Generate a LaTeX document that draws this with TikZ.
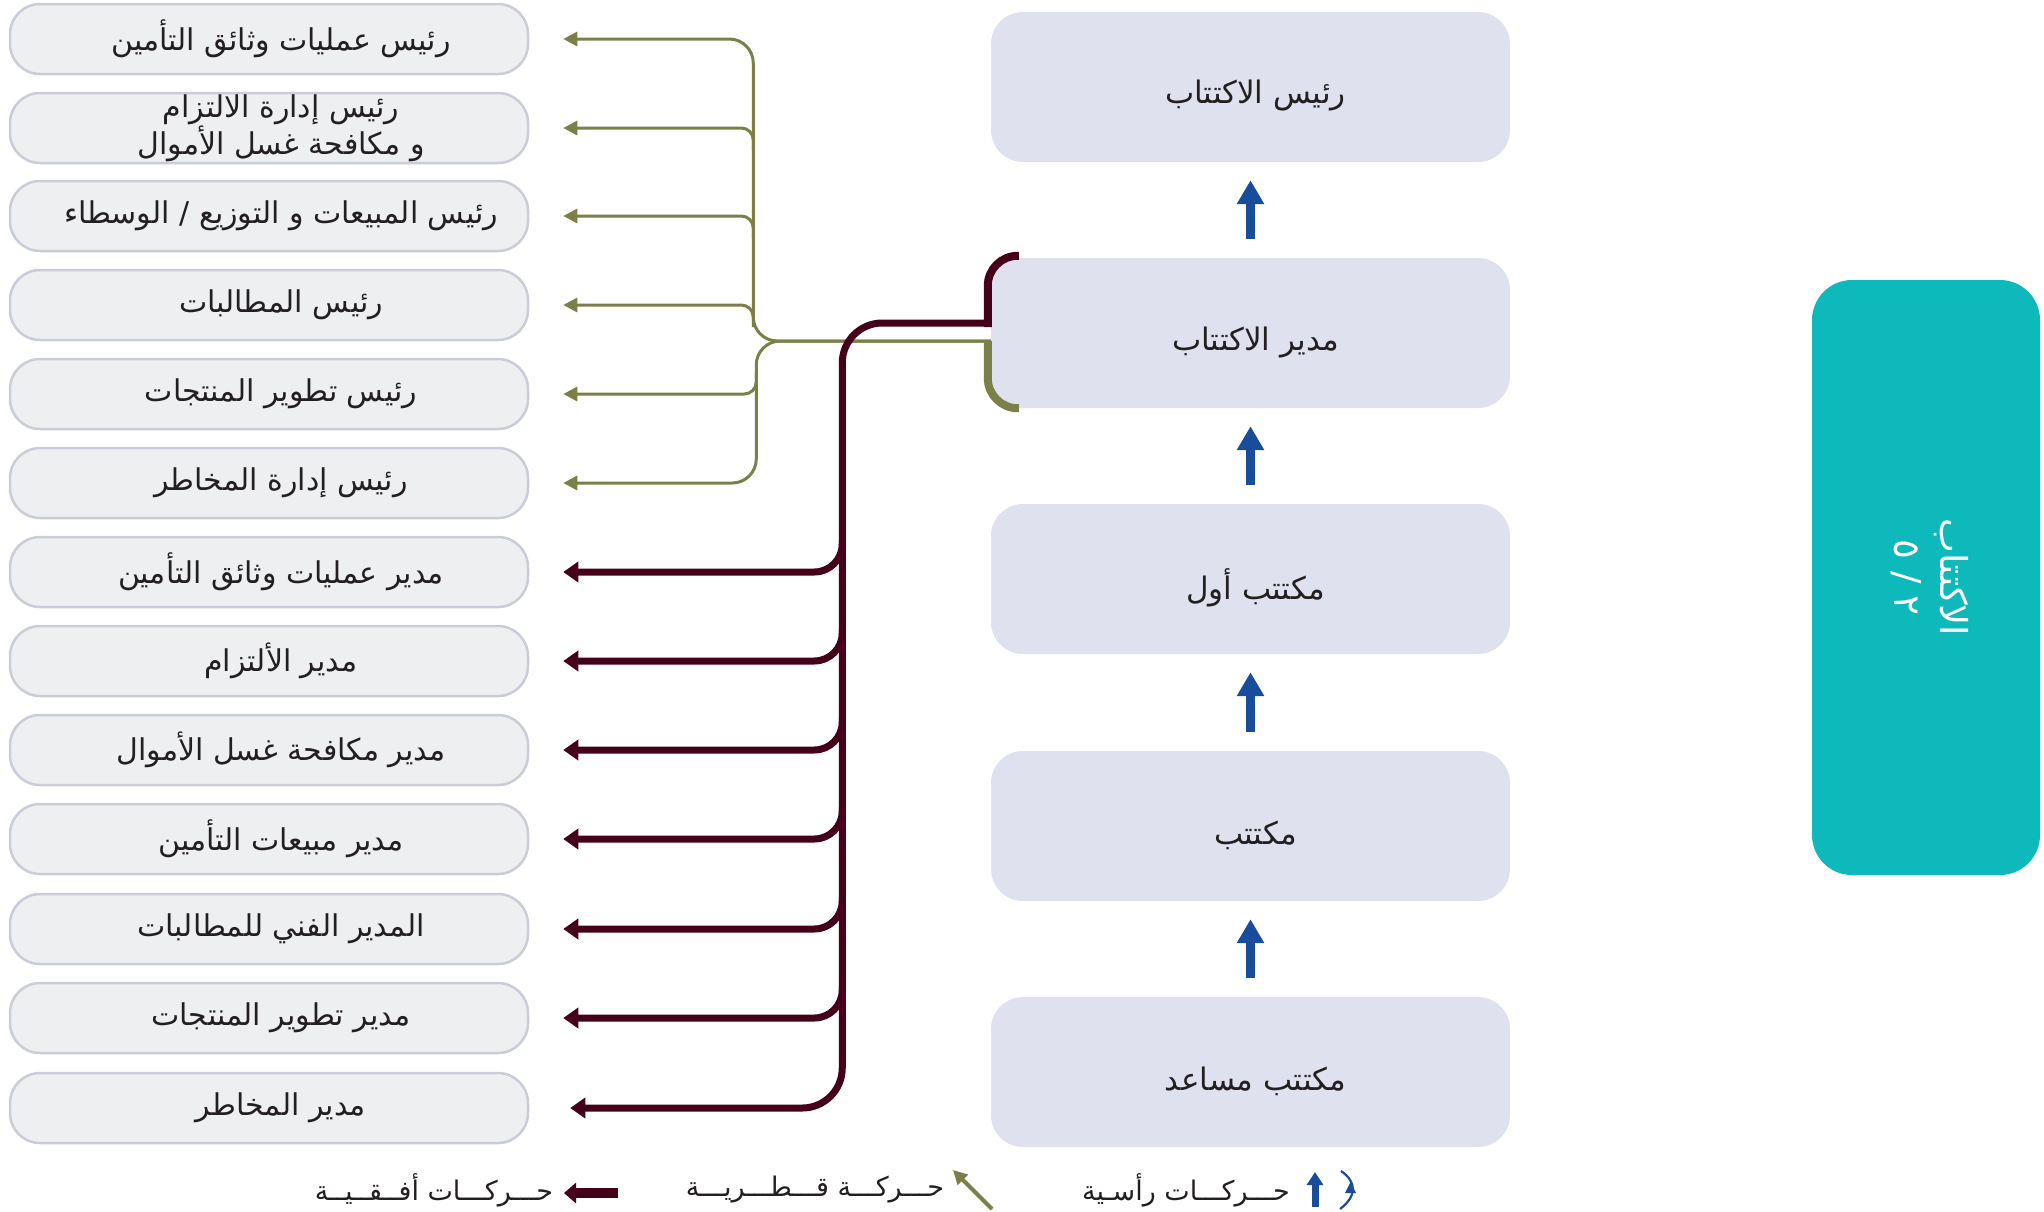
\documentclass[tikz,border=0pt]{standalone}
\usepackage{fontspec}
\TeXXeTstate=1
\newfontfamily\arabicfont[Script=Arabic]{DejaVu Sans}
\usetikzlibrary{arrows.meta,calc}

\definecolor{leftfill}{HTML}{EEEFF1}
\definecolor{leftline}{HTML}{CACDD8}
\definecolor{rightfill}{HTML}{DFE1EE}
\definecolor{tealfill}{HTML}{0DB9BA}
\definecolor{inkgray}{HTML}{231F20}
\definecolor{olivegreen}{HTML}{7A8048}
\definecolor{maroon}{HTML}{45001A}
\definecolor{stepblue}{HTML}{1A4C9C}

\newcommand{\rtltext}[1]{\beginR #1\endR}

\tikzset{
  leftbox/.style={draw=leftline, line width=2.5pt, fill=leftfill,
    rounded corners=30pt, minimum width=518pt, minimum height=70pt, inner sep=0pt},
  lefttext/.style={text=inkgray, font=\arabicfont\fontsize{30}{31}\selectfont,
    align=center, inner sep=0pt},
  rightbox/.style={fill=rightfill, rounded corners=32pt,
    minimum width=519pt, minimum height=150pt, inner sep=0pt},
  righttext/.style={text=inkgray, font=\arabicfont\fontsize{31}{36}\selectfont, inner sep=0pt},
  gline/.style={draw=olivegreen, line width=3pt, rounded corners=24pt,
    -{Triangle[length=14pt,width=14pt]}},
  gbranch/.style={gline, rounded corners=12pt},
  mline/.style={draw=maroon, line width=7pt, rounded corners=40pt,
    -{Triangle[length=15pt,width=20pt]}},
  mbranch/.style={mline, rounded corners=28pt},
  bracket/.style={line width=8pt, rounded corners=30pt},
  uparrow/.style={draw=stepblue, line width=9pt,
    -{Triangle[length=24pt,width=26pt]}, shorten <=19pt, shorten >=18pt},
  legendtext/.style={text=inkgray, font=\arabicfont\fontsize{27}{30}\selectfont, inner sep=0pt},
}

\begin{document}
\begin{tikzpicture}[x=1pt,y=-1pt]
\useasboundingbox (0,0) rectangle (2044,1211);

% ---------- left column ----------
\node[leftbox] (l1)  at (269,39)   {};
\node[leftbox] (l2)  at (269,128)  {};
\node[leftbox] (l3)  at (269,216)  {};
\node[leftbox] (l4)  at (269,305)  {};
\node[leftbox] (l5)  at (269,394)  {};
\node[leftbox] (l6)  at (269,483)  {};
\node[leftbox] (l7)  at (269,572)  {};
\node[leftbox] (l8)  at (269,661)  {};
\node[leftbox] (l9)  at (269,750)  {};
\node[leftbox] (l10) at (269,839)  {};
\node[leftbox] (l11) at (269,929)  {};
\node[leftbox] (l12) at (269,1018) {};
\node[leftbox] (l13) at (269,1108) {};

\node[lefttext] (t1)  at ($(l1.center)+(12,0)$)  {\rtltext{رئيس عمليات وثائق التأمين}};
\node[lefttext] (t2)  at ($(l2.center)+(12,0)$)  {\rtltext{رئيس إدارة الالتزام}\\\rtltext{و مكافحة غسل الأموال}};
\node[lefttext] (t3)  at ($(l3.center)+(12,0)$)  {\rtltext{رئيس المبيعات و التوزيع / الوسطاء}};
\node[lefttext] (t4)  at ($(l4.center)+(12,0)$)  {\rtltext{رئيس المطالبات}};
\node[lefttext] (t5)  at ($(l5.center)+(12,0)$)  {\rtltext{رئيس تطوير المنتجات}};
\node[lefttext] (t6)  at ($(l6.center)+(12,0)$)  {\rtltext{رئيس إدارة المخاطر}};
\node[lefttext] (t7)  at ($(l7.center)+(12,0)$)  {\rtltext{مدير عمليات وثائق التأمين}};
\node[lefttext] (t8)  at ($(l8.center)+(12,0)$)  {\rtltext{مدير الألتزام}};
\node[lefttext] (t9)  at ($(l9.center)+(12,0)$)  {\rtltext{مدير مكافحة غسل الأموال}};
\node[lefttext] (t10) at ($(l10.center)+(12,0)$) {\rtltext{مدير مبيعات التأمين}};
\node[lefttext] (t11) at ($(l11.center)+(12,0)$) {\rtltext{المدير الفني للمطالبات}};
\node[lefttext] (t12) at ($(l12.center)+(12,0)$) {\rtltext{مدير تطوير المنتجات}};
\node[lefttext] (t13) at ($(l13.center)+(12,0)$) {\rtltext{مدير المخاطر}};

% ---------- career ladder ----------
\node[rightbox] (r1) at (1250.5,87)   {};
\node[rightbox] (r2) at (1250.5,333)  {};
\node[rightbox] (r3) at (1250.5,579)  {};
\node[rightbox] (r4) at (1250.5,826)  {};
\node[rightbox] (r5) at (1250.5,1072) {};

\node[righttext] at ($(r1.center)+(5,9)$) {\rtltext{رئيس الاكتتاب}};
\node[righttext] at ($(r2.center)+(5,9)$) {\rtltext{مدير الاكتتاب}};
\node[righttext] at ($(r3.center)+(5,9)$) {\rtltext{مكتتب أول}};
\node[righttext] at ($(r4.center)+(5,9)$) {\rtltext{مكتتب}};
\node[righttext] at ($(r5.center)+(5,9)$) {\rtltext{مكتتب مساعد}};

\draw[uparrow] (r2.north) -- (r1.south);
\draw[uparrow] (r3.north) -- (r2.south);
\draw[uparrow] (r4.north) -- (r3.south);
\draw[uparrow] (r5.north) -- (r4.south);

% ---------- side label ----------
\node[fill=tealfill, rounded corners=40pt, minimum width=228pt,
      minimum height=595pt, inner sep=0pt] (side) at (1926,577.5) {};
\node[text=white, rotate=-90, align=center, inner sep=0pt,
      font=\arabicfont\fontsize{37}{46}\selectfont] at ($(side.center)+(4,0)$)
      {\rtltext{الاكتتاب}\\\rtltext{٢ / ٥}};

% ---------- brackets on the manager box ----------
\draw[maroon, bracket] ($(r2.west)+(-3,-6)$) |- ($(r2.north west)+(28,-2)$);
\draw[olivegreen, bracket] ($(r2.west)+(-3,8)$) |- ($(r2.south west)+(28,0)$);

% ---------- diagonal moves (olive) ----------
\coordinate (gj) at ($(r2.west)+(0,8)$);
\draw[gline] (gj) -| ($(l1.east)+(224,0)$) -- ($(l1.east)+(34,0)$);
\draw[gline] (gj) -| ($(l6.east)+(227,0)$) -- ($(l6.east)+(34,0)$);
\draw[gbranch] ($(l2.east)+(224,22)$) |- ($(l2.east)+(34,0)$);
\draw[gbranch] ($(l3.east)+(224,22)$) |- ($(l3.east)+(34,0)$);
\draw[gbranch] ($(l4.east)+(224,22)$) |- ($(l4.east)+(34,0)$);
\draw[gbranch] ($(l5.east)+(227,-22)$) |- ($(l5.east)+(34,0)$);

% ---------- horizontal moves (maroon) ----------
\coordinate (mj) at ($(r2.west)+(0,-10)$);
\draw[mline] (mj) -| ($(l13.east)+(313,0)$) -- ($(l13.east)+(41,0)$);
\foreach \k in {7,...,12}
  \draw[mbranch] ($(l\k.east)+(313,-32)$) |- ($(l\k.east)+(34,0)$);

% ---------- legend ----------
\node[legendtext] (lg1) at (1186,1190) {\rtltext{حـــركـــات رأسـية}};
\node[legendtext] (lg2) at (815,1190)  {\rtltext{حـــركـــة قـــطـــريـــة}};
\node[legendtext] (lg3) at (434,1190)  {\rtltext{حـــركـــات أفــقــيــة}};

\coordinate (lv1) at (1315,1207);
\coordinate (lv2) at (1315,1172);
\draw[stepblue, line width=7pt, -{Triangle[length=13pt,width=16pt]}] (lv1) -- (lv2);
\draw[stepblue, line width=2.2pt] (1341,1171) .. controls (1357,1182) and (1357,1196) .. (1340,1209);
\fill[stepblue] (1350.5,1182) -- (1345,1193) -- (1356,1193) -- cycle;

\coordinate (ld1) at (992,1209);
\coordinate (ld2) at (953,1170);
\draw[olivegreen, line width=4pt, -{Triangle[length=14pt,width=14pt]}] (ld1) -- (ld2);

\coordinate (lh1) at (618,1193);
\coordinate (lh2) at (564,1193);
\draw[maroon, line width=10pt, -{Triangle[length=12pt,width=20pt]}] (lh1) -- (lh2);
\end{tikzpicture}
\end{document}
